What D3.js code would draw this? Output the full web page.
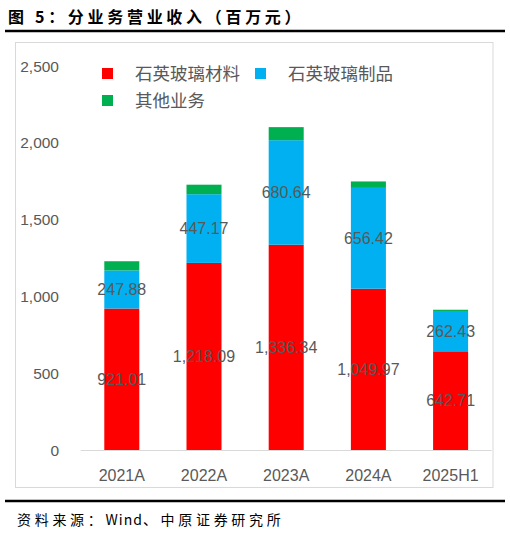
<!DOCTYPE html>
<html>
<head>
<meta charset="utf-8">
<script src="https://cdn.jsdelivr.net/npm/d3@7/dist/d3.min.js"></script>
<style>
  html, body { margin: 0; padding: 0; background: #fff; }
  svg { display: block; }
</style>
</head>
<body>
<svg id="chart" width="510" height="533"></svg>
<script>
const categories = ["2021A", "2022A", "2023A", "2024A", "2025H1"];
const seriesNames = ["石英玻璃材料", "石英玻璃制品", "其他业务"];
const material = [921.01, 1218.09, 1336.34, 1049.97, 642.71];
const products = [247.88, 447.17, 680.64, 656.42, 262.43];
const other = [60, 62, 85, 42, 8];
const yTicks = [0, 500, 1000, 1500, 2000, 2500];
const titleText = "图 5：分业务营业收入（百万元）";
const sourceParts = [["资料来源：", 3.7], ["Wind", 1], ["、中原证券研究所", 3.7]];

const colors = ["#FF0000", "#00B0F0", "#00B050"];
const labelColor = "#595959";
const numFont = "'Liberation Sans', Arial, sans-serif";
const cjkFont = "'Noto Sans CJK SC', 'Noto Sans', sans-serif";

const svg = d3.select("#chart");

// title
svg.append("text").attr("x", 8).attr("y", 23)
  .attr("font-family", cjkFont).attr("font-weight", 700).attr("font-size", 16)
  .attr("letter-spacing", 3.7).attr("fill", "#000").text(titleText);
svg.append("line").attr("x1", 5).attr("x2", 505).attr("y1", 31).attr("y2", 31)
  .attr("stroke", "#000").attr("stroke-width", 2.5);

// chart frame
svg.append("rect").attr("x", 15.5).attr("y", 42.5).attr("width", 477.5).attr("height", 445)
  .attr("fill", "#fff").attr("stroke", "#D9D9D9").attr("stroke-width", 1);

// bottom line + source
svg.append("line").attr("x1", 5).attr("x2", 505).attr("y1", 501).attr("y2", 501)
  .attr("stroke", "#000").attr("stroke-width", 2.5);
const src = svg.append("text").attr("x", 17).attr("y", 525)
  .attr("font-family", cjkFont).attr("font-size", 14).attr("fill", "#000");
src.selectAll("tspan").data(sourceParts).join("tspan")
  .attr("letter-spacing", d => d[1]).text(d => d[0]);

// scales
const x = d3.scaleBand().domain(categories).range([80.7, 491.7])
  .paddingInner(0.574).paddingOuter(0.287);
const y = d3.scaleLinear().domain([0, 2500]).range([450, 66]);

const rows = categories.map((c, i) => ({ cat: c, s0: material[i], s1: products[i], s2: other[i] }));
const stack = d3.stack().keys(["s0", "s1", "s2"])(rows);

// y tick labels
svg.append("g").selectAll("text").data(yTicks).join("text")
  .attr("x", 59).attr("y", d => y(d)).attr("dy", "0.36em")
  .attr("text-anchor", "end").attr("font-family", numFont).attr("font-size", 15.5)
  .attr("fill", labelColor).text(d => d3.format(",")(d));

// bars
stack.forEach((layer, k) => {
  svg.append("g").selectAll("rect").data(layer).join("rect")
    .attr("x", d => x(d.data.cat))
    .attr("width", x.bandwidth())
    .attr("y", d => y(d[1]))
    .attr("height", d => y(d[0]) - y(d[1]))
    .attr("fill", colors[k]);
});

// baseline
svg.append("line").attr("x1", 80.7).attr("x2", 491.7).attr("y1", y(0) + 0.5).attr("y2", y(0) + 0.5)
  .attr("stroke", "#D9D9D9").attr("stroke-width", 1);

// category labels
svg.append("g").selectAll("text").data(categories).join("text")
  .attr("x", d => x(d) + x.bandwidth() / 2).attr("y", 475).attr("dy", "0.36em")
  .attr("text-anchor", "middle").attr("font-family", numFont).attr("font-size", 16)
  .attr("fill", labelColor).text(d => d);

// data labels (first two series)
const fmt = d3.format(",.2f");
stack.slice(0, 2).forEach(layer => {
  svg.append("g").selectAll("text").data(layer).join("text")
    .attr("x", d => x(d.data.cat) + x.bandwidth() / 2)
    .attr("y", d => (y(d[0]) + y(d[1])) / 2).attr("dy", "0.36em")
    .attr("text-anchor", "middle").attr("font-family", numFont).attr("font-size", 16)
    .attr("fill", labelColor).text(d => fmt(d[1] - d[0]));
});

// legend
const legendItems = [
  { name: seriesNames[0], color: colors[0], x: 102, y: 73.5 },
  { name: seriesNames[1], color: colors[1], x: 255, y: 73.5 },
  { name: seriesNames[2], color: colors[2], x: 102, y: 100.5 }
];
const lg = svg.append("g").selectAll("g").data(legendItems).join("g");
lg.append("rect").attr("x", d => d.x).attr("y", d => d.y - 5.5)
  .attr("width", 11).attr("height", 11).attr("fill", d => d.color);
lg.append("text").attr("x", d => d.x + 33).attr("y", d => d.y).attr("dy", "0.36em")
  .attr("font-family", cjkFont).attr("font-size", 17.5).attr("fill", labelColor)
  .text(d => d.name);
</script>
</body>
</html>
